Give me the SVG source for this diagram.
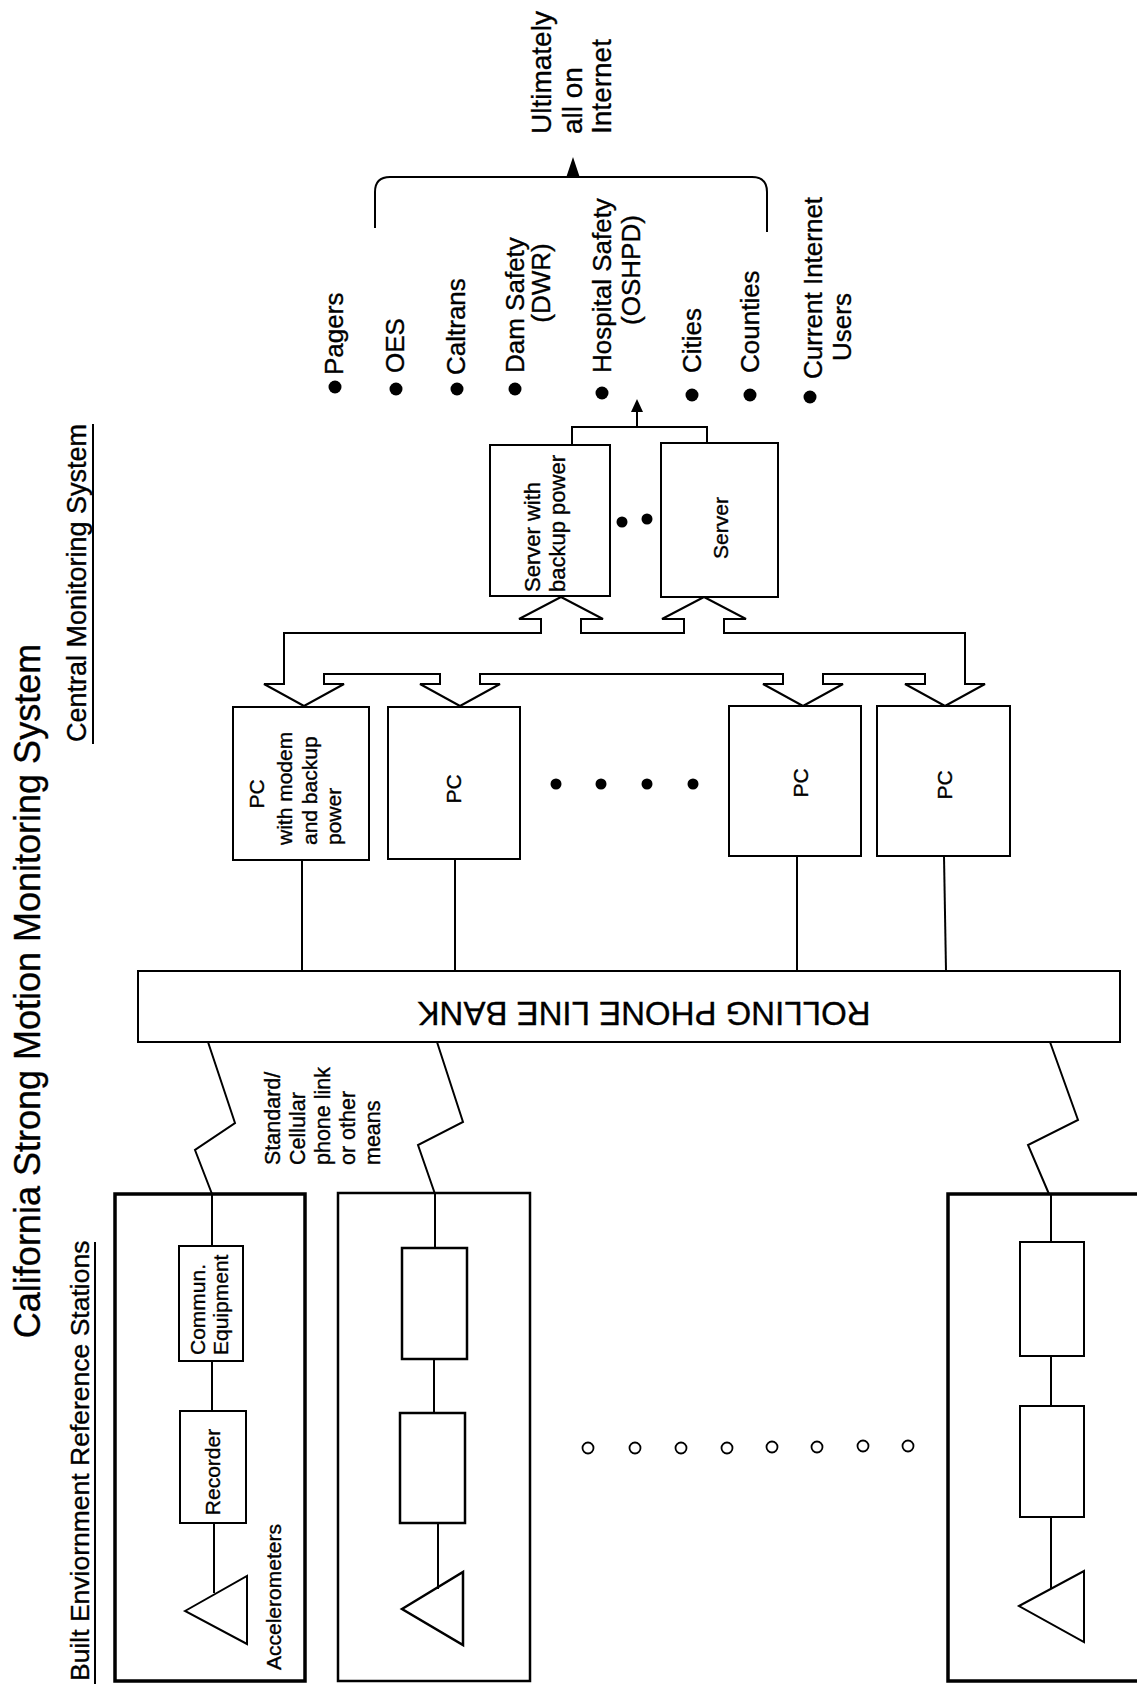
<svg xmlns="http://www.w3.org/2000/svg" width="1137" height="1684" viewBox="0 0 1137 1684">
<style>
text{font-family:"Liberation Sans",Arial,sans-serif;fill:#000;stroke:#000;stroke-width:0.35}
.ln{fill:none;stroke:#000;stroke-width:2}
.box{fill:#fff;stroke:#000;stroke-width:2}
.st{fill:none;stroke:#000;stroke-width:3.5}
.dot{fill:#000}
.oc{fill:none;stroke:#000;stroke-width:1.8}
.t26{font-size:26px}
.t28{font-size:28px}
.t21{font-size:21px}
</style>
<rect x="0" y="0" width="1137" height="1684" fill="#fff"/>

<g id="titles">
<text font-size="36" text-anchor="middle" transform="translate(40,991) rotate(-90)">California Strong Motion Monitoring System</text>
<text font-size="27" text-anchor="middle" transform="translate(86,583) rotate(-90)">Central Monitoring System</text>
<line class="ln" x1="93" y1="424" x2="93" y2="744"/>
<text font-size="26.5" transform="translate(89,1681) rotate(-90)">Built Enviornment Reference Stations</text>
<line class="ln" x1="95" y1="1242" x2="95" y2="1684"/>
</g>

<g id="connectors">
<!-- top bracket to internet -->
<path class="ln" d="M375 228 L375 192 Q375 177 390 177 L752 177 Q767 177 767 192 L767 232"/>
<polygon points="573,157 566,178 580,178" fill="#000"/>
<!-- server join -->
<path class="ln" d="M572 445 L572 427 L707 427 L707 443 M637 427 L637 411"/>
<polygon points="637,399 631,412 643,412" fill="#000"/>
<!-- hollow bus channel -->
<path class="ln" d="M284 684 L284 633 L541 633 L541 619 L519 619 L561 597 L603 619 L581 619 L581 633 L684 633 L684 619 L662 619 L704 597 L746 619 L724 619 L724 633 L965 633 L965 684 L985 684 L945 706 L905 684 L925 684 L925 674 L823 674 L823 684 L843 684 L803 706 L763 684 L783 684 L783 674 L480 674 L480 684 L500 684 L460 706 L420 684 L440 684 L440 674 L324 674 L324 684 L344 684 L304 706 L264 684 Z"/>
<!-- PC to bank -->
<line class="ln" x1="302" y1="860" x2="302" y2="971"/>
<line class="ln" x1="455" y1="859" x2="455" y2="971"/>
<line class="ln" x1="797" y1="856" x2="797" y2="971"/>
<line class="ln" x1="944" y1="856" x2="946" y2="971"/>
<!-- phone links -->
<polyline class="ln" points="208,1042 235,1123 195,1150 212,1194"/>
<polyline class="ln" points="437,1042 463,1122 418,1145 435,1194"/>
<polyline class="ln" points="1050,1042 1078,1120 1028,1145 1049,1194"/>
</g>

<g id="recipients">
<circle class="dot" cx="335" cy="387" r="6.5"/>
<text class="t26" transform="translate(343,375) rotate(-90)">Pagers</text>
<circle class="dot" cx="396" cy="389" r="6.5"/>
<text class="t26" transform="translate(404,373) rotate(-90)">OES</text>
<circle class="dot" cx="457" cy="389" r="6.5"/>
<text class="t26" transform="translate(465,375) rotate(-90)">Caltrans</text>
<circle class="dot" cx="515" cy="389" r="6.5"/>
<text class="t26" transform="translate(524,373) rotate(-90)">Dam Safety</text>
<text class="t26" text-anchor="middle" transform="translate(550,283) rotate(-90)">(DWR)</text>
<circle class="dot" cx="602" cy="393" r="6.5"/>
<text class="t26" transform="translate(611,373) rotate(-90)">Hospital Safety</text>
<text class="t26" text-anchor="middle" transform="translate(640,270) rotate(-90)">(OSHPD)</text>
<circle class="dot" cx="692" cy="395" r="6.5"/>
<text class="t26" transform="translate(701,373) rotate(-90)">Cities</text>
<circle class="dot" cx="750" cy="395" r="6.5"/>
<text class="t26" transform="translate(759,373) rotate(-90)">Counties</text>
<circle class="dot" cx="810" cy="397" r="6.5"/>
<text class="t26" transform="translate(822,379) rotate(-90)">Current Internet</text>
<text class="t26" text-anchor="middle" transform="translate(851,327) rotate(-90)">Users</text>
</g>

<g id="internet">
<text class="t28" transform="translate(551,134) rotate(-90)">Ultimately</text>
<text class="t28" transform="translate(582,134) rotate(-90)">all on</text>
<text class="t28" transform="translate(611,134) rotate(-90)">Internet</text>
</g>

<g id="server1">
<rect class="box" x="490" y="445" width="120" height="151"/>
<text font-size="22" transform="translate(540,592) rotate(-90)">Server with</text>
<text font-size="22" transform="translate(565,592) rotate(-90)">backup power</text>
</g>
<g id="server-dots">
<circle class="dot" cx="622" cy="522" r="5.5"/>
<circle class="dot" cx="647" cy="519" r="5.5"/>
</g>
<g id="server2">
<rect class="box" x="661" y="443" width="117" height="154"/>
<text font-size="21" text-anchor="middle" transform="translate(728,528) rotate(-90)">Server</text>
</g>

<g id="pc1">
<rect class="box" x="233" y="707" width="136" height="153"/>
<text class="t21" text-anchor="middle" transform="translate(264,794) rotate(-90)">PC</text>
<text class="t21" transform="translate(292,845) rotate(-90)">with modem</text>
<text class="t21" transform="translate(317,845) rotate(-90)">and backup</text>
<text class="t21" transform="translate(341,845) rotate(-90)">power</text>
</g>
<g id="pc2">
<rect class="box" x="388" y="707" width="132" height="152"/>
<text class="t21" text-anchor="middle" transform="translate(461,789) rotate(-90)">PC</text>
</g>
<g id="pc-dots">
<circle class="dot" cx="556" cy="784" r="5.5"/>
<circle class="dot" cx="601" cy="784" r="5.5"/>
<circle class="dot" cx="647" cy="784" r="5.5"/>
<circle class="dot" cx="693" cy="784" r="5.5"/>
</g>
<g id="pc3">
<rect class="box" x="729" y="706" width="132" height="150"/>
<text class="t21" text-anchor="middle" transform="translate(808,783) rotate(-90)">PC</text>
</g>
<g id="pc4">
<rect class="box" x="877" y="706" width="133" height="150"/>
<text class="t21" text-anchor="middle" transform="translate(952,785) rotate(-90)">PC</text>
</g>

<g id="bank">
<rect class="box" x="138" y="971" width="982" height="71"/>
<text font-size="33" text-anchor="middle" transform="translate(644,1002) rotate(180)">ROLLING PHONE LINE BANK</text>
</g>

<g id="link-label">
<text font-size="21.5" transform="translate(280,1165) rotate(-90)">Standard/</text>
<text font-size="21.5" transform="translate(305,1165) rotate(-90)">Cellular</text>
<text font-size="21.5" transform="translate(330,1165) rotate(-90)">phone link</text>
<text font-size="21.5" transform="translate(355,1165) rotate(-90)">or other</text>
<text font-size="21.5" transform="translate(380,1165) rotate(-90)">means</text>
</g>

<g id="station1">
<rect class="st" x="115" y="1194" width="190" height="487"/>
<line class="ln" x1="212" y1="1194" x2="212" y2="1246"/>
<rect class="box" x="179" y="1246" width="64" height="115"/>
<text class="t21" transform="translate(205,1355) rotate(-90)">Commun.</text>
<text class="t21" transform="translate(228,1355) rotate(-90)">Equipment</text>
<line class="ln" x1="212" y1="1361" x2="212" y2="1411"/>
<rect class="box" x="180" y="1411" width="66" height="112"/>
<text class="t21" text-anchor="middle" transform="translate(220,1472) rotate(-90)">Recorder</text>
<line class="ln" x1="214" y1="1523" x2="214" y2="1593"/>
<polygon class="ln" points="185,1611 247,1576 247,1644"/>
<text class="t21" transform="translate(281,1670) rotate(-90)">Accelerometers</text>
</g>

<g id="station2">
<rect x="338" y="1193" width="192" height="488" style="fill:none;stroke:#000;stroke-width:2.5"/>
<line class="ln" x1="435" y1="1193" x2="435" y2="1248"/>
<rect class="box" x="402" y="1248" width="65" height="111" style="stroke-width:2.5"/>
<line class="ln" x1="434" y1="1359" x2="434" y2="1413"/>
<rect class="box" x="400" y="1413" width="65" height="110" style="stroke-width:2.5"/>
<line class="ln" x1="438" y1="1523" x2="438" y2="1589"/>
<polygon class="ln" points="402,1609 463,1572 463,1645" style="stroke-width:2.5"/>
</g>

<g id="station-dots">
<circle class="oc" cx="588" cy="1448" r="5.5"/>
<circle class="oc" cx="635" cy="1448" r="5.5"/>
<circle class="oc" cx="681" cy="1448" r="5.5"/>
<circle class="oc" cx="727" cy="1448" r="5.5"/>
<circle class="oc" cx="772" cy="1447" r="5.5"/>
<circle class="oc" cx="817" cy="1447" r="5.5"/>
<circle class="oc" cx="863" cy="1446" r="5.5"/>
<circle class="oc" cx="908" cy="1446" r="5.5"/>
</g>

<g id="station3">
<rect class="st" x="948" y="1194" width="200" height="487"/>
<line class="ln" x1="1051" y1="1194" x2="1051" y2="1242"/>
<rect class="box" x="1020" y="1242" width="64" height="114"/>
<line class="ln" x1="1051" y1="1356" x2="1051" y2="1406"/>
<rect class="box" x="1020" y="1406" width="64" height="111"/>
<line class="ln" x1="1051" y1="1517" x2="1051" y2="1589"/>
<polygon class="ln" points="1019,1606 1084,1571 1084,1642"/>
</g>
</svg>
